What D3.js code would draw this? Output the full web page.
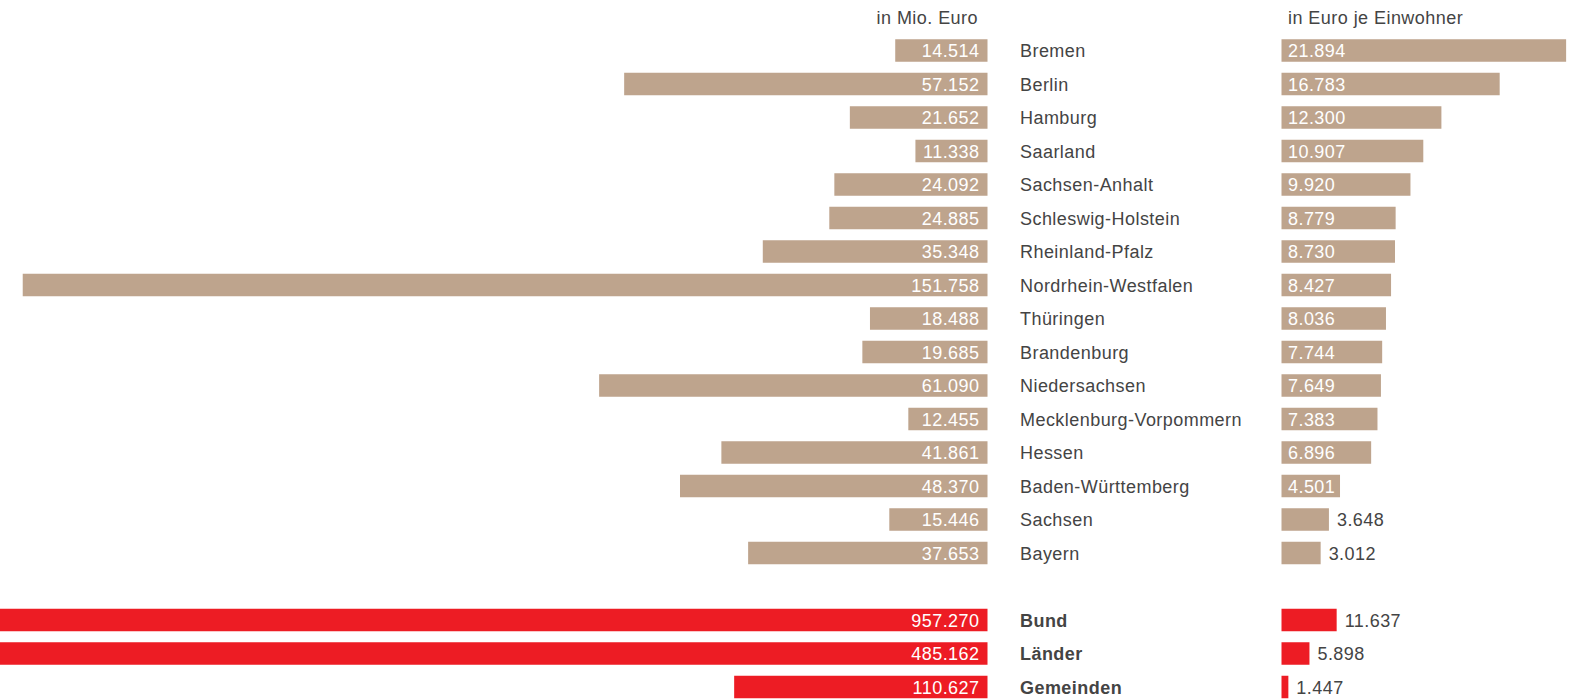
<!DOCTYPE html>
<html>
<head>
<meta charset="utf-8">
<script src="https://cdn.jsdelivr.net/npm/d3@7"></script>
<style>
  body { margin: 0; background: #fff; }
  svg text { font-family: "Liberation Sans", Arial, sans-serif; font-size: 18px; letter-spacing: 0.45px; }
</style>
</head>
<body>
<div id="chart"></div>
<script>
// Länder (sortiert nach Euro je Einwohner)
const laender = ["Bremen", "Berlin", "Hamburg", "Saarland", "Sachsen-Anhalt", "Schleswig-Holstein",
  "Rheinland-Pfalz", "Nordrhein-Westfalen", "Thüringen", "Brandenburg", "Niedersachsen",
  "Mecklenburg-Vorpommern", "Hessen", "Baden-Württemberg", "Sachsen", "Bayern"];
const mioEuro = [14514, 57152, 21652, 11338, 24092, 24885, 35348, 151758, 18488, 19685, 61090,
  12455, 41861, 48370, 15446, 37653];
const euroJeEinwohner = [21894, 16783, 12300, 10907, 9920, 8779, 8730, 8427, 8036, 7744, 7649,
  7383, 6896, 4501, 3648, 3012];

// Ebenen
const ebenen = ["Bund", "Länder", "Gemeinden"];
const ebenenMio = [957270, 485162, 110627];
const ebenenJeEinwohner = [11637, 5898, 1447];

const headerLeft = "in Mio. Euro";
const headerRight = "in Euro je Einwohner";

const width = 1570, height = 699;
const midL = 987.5;   // rechte Kante der linken Balken
const midR = 1281.5;  // linke Kante der rechten Balken
const labelX = 1020;
const barH = 22.5;

const fmtNum = v => (v / 1000).toFixed(3);

const svg = d3.select("#chart")
  .append("svg")
  .attr("width", width)
  .attr("height", height);

const rows = laender.concat(["_gap"], ebenen);
const y = d3.scalePoint()
  .domain(rows)
  .range([50.5, 687]);

// getrennte Skalen für Länder und Ebenen
const xL = d3.scaleLinear().domain([0, 150000]).range([0, 953.6]);
const xLagg = d3.scaleLinear().domain([0, 100000]).range([0, 229]);
const xR = d3.scaleLinear().domain([0, 20000]).range([0, 260]);
const xRagg = d3.scaleLinear().domain([0, 10000]).range([0, 47.4]);

const tan = "#bea48d";
const red = "#ed1c24";
const textCol = "#444";

const data = laender.map((name, i) => ({ name, left: mioEuro[i], right: euroJeEinwohner[i], agg: false }))
  .concat(ebenen.map((name, i) => ({ name, left: ebenenMio[i], right: ebenenJeEinwohner[i], agg: true })));

// Kopfzeilen
svg.append("text")
  .attr("x", 978)
  .attr("y", 24)
  .attr("text-anchor", "end")
  .attr("fill", textCol)
  .text(headerLeft);

svg.append("text")
  .attr("x", 1288)
  .attr("y", 24)
  .attr("fill", textCol)
  .text(headerRight);

const row = svg.selectAll(".row")
  .data(data)
  .enter()
  .append("g")
  .attr("class", "row")
  .attr("transform", d => `translate(0,${y(d.name)})`);

// linke Balken
row.append("rect")
  .attr("x", d => midL - (d.agg ? xLagg(d.left) : xL(d.left)))
  .attr("y", -barH / 2)
  .attr("width", d => d.agg ? xLagg(d.left) : xL(d.left))
  .attr("height", barH)
  .attr("fill", d => d.agg ? red : tan);

row.append("text")
  .attr("x", midL - 8)
  .attr("y", 6.5)
  .attr("text-anchor", "end")
  .attr("fill", "#fff")
  .text(d => fmtNum(d.left));

// Namen
row.append("text")
  .attr("x", labelX)
  .attr("y", 6.5)
  .attr("fill", textCol)
  .style("font-weight", d => d.agg ? "bold" : "normal")
  .text(d => d.name);

// rechte Balken
row.append("rect")
  .attr("x", midR)
  .attr("y", -barH / 2)
  .attr("width", d => d.agg ? xRagg(d.right) : xR(d.right))
  .attr("height", barH)
  .attr("fill", d => d.agg ? red : tan);

row.append("text")
  .attr("y", 6.5)
  .text(d => fmtNum(d.right))
  .each(function(d) {
    const w = d.agg ? xRagg(d.right) : xR(d.right);
    const tw = this.getComputedTextLength();
    const inside = tw + 10 <= w;
    d3.select(this)
      .attr("x", inside ? midR + 6.5 : midR + w + 8)
      .attr("fill", inside ? "#fff" : textCol);
  });
</script>
</body>
</html>
